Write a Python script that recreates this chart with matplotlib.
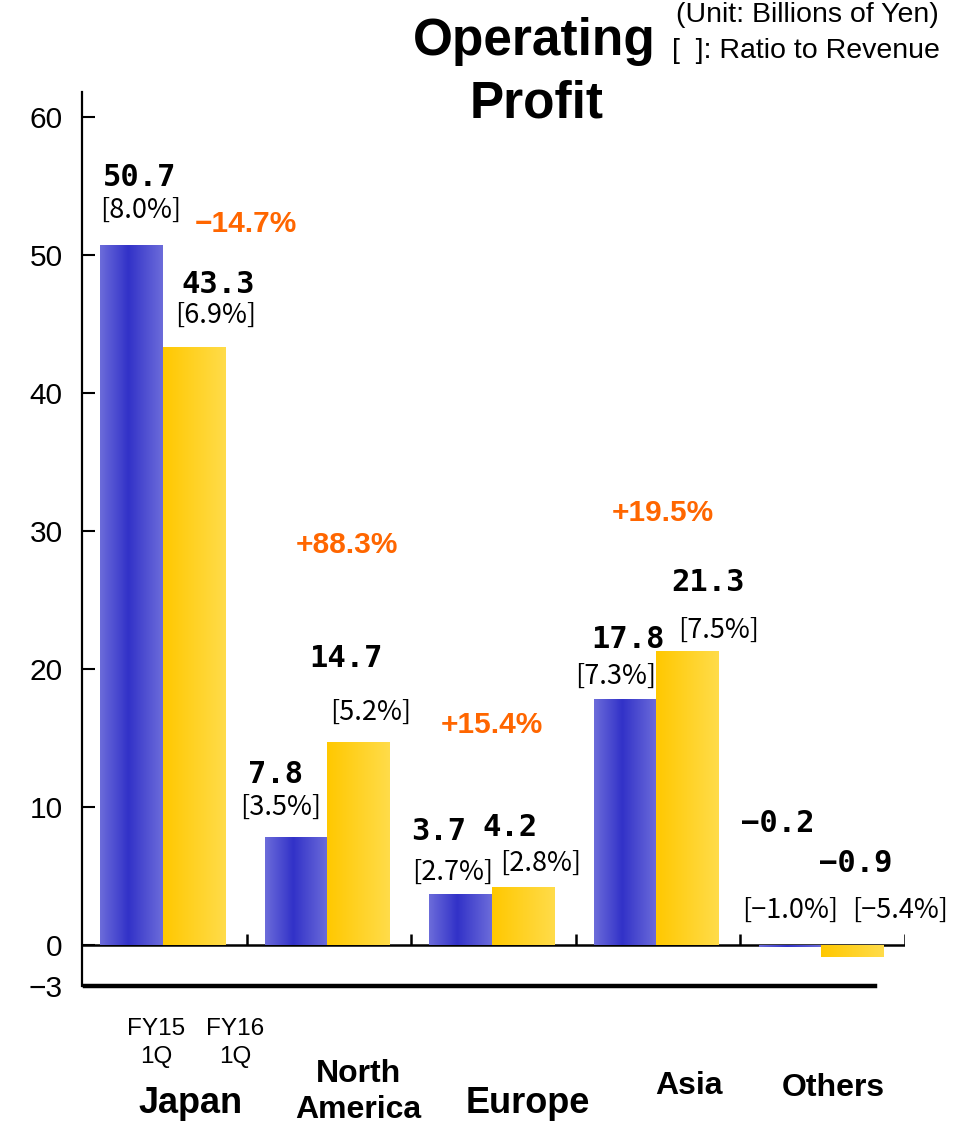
import matplotlib
matplotlib.use("Agg")
import matplotlib.pyplot as plt
import numpy as np
from matplotlib.colors import LinearSegmentedColormap

plt.rcParams['font.family'] = ['Liberation Sans', 'DejaVu Sans']

# ---- data (billions of yen) ----
regions = ["Japan", "North\nAmerica", "Europe", "Asia", "Others"]
periods = ["FY15\n1Q", "FY16\n1Q"]
profit_fy15 = [50.7, 7.8, 3.7, 17.8, -0.2]
profit_fy16 = [43.3, 14.7, 4.2, 21.3, -0.9]
margin_fy15 = [8.0, 3.5, 2.7, 7.3, -1.0]
margin_fy16 = [6.9, 5.2, 2.8, 7.5, -5.4]
yoy_change = [-14.7, 88.3, 15.4, 19.5, None]
y_ticks = [-3, 0, 10, 20, 30, 40, 50, 60]

# ---- layout ----
W, H = 956, 1123
fig = plt.figure(figsize=(W / 100, H / 100), dpi=100)
px_left, px_right, px_top, px_bottom = 82, 905, 92, 986
ax = fig.add_axes([px_left / W, 1 - px_bottom / H,
                   (px_right - px_left) / W, (px_bottom - px_top) / H])
ymin, ymax = -3, 61.8

x = np.arange(len(regions)) + 0.49
bw = 0.38

blue_cmap = LinearSegmentedColormap.from_list(
    "blue_bar", [(0.0, "#6c6cda"), (0.45, "#3232c8"), (1.0, "#6c6cda")])
yellow_cmap = LinearSegmentedColormap.from_list(
    "yellow_bar", [(0.0, "#ffc800"), (1.0, "#ffdc4a")])

bars15 = ax.bar(x - bw / 2, profit_fy15, bw, color="none", edgecolor="none", zorder=4)
bars16 = ax.bar(x + bw / 2, profit_fy16, bw, color="none", edgecolor="none", zorder=4)

grad = np.linspace(0, 1, 256).reshape(1, -1)


def fill_gradient(bar, cmap):
    x0, y0 = bar.get_xy()
    w, h = bar.get_width(), bar.get_height()
    im = ax.imshow(grad, cmap=cmap, aspect="auto", origin="lower",
                   extent=[x0, x0 + w, y0, y0 + h], zorder=4,
                   interpolation="bilinear")
    im.set_clip_path(bar)


for b in bars15:
    fill_gradient(b, blue_cmap)
for b in bars16:
    fill_gradient(b, yellow_cmap)

ax.set_xlim(0, len(regions))
ax.set_ylim(ymin, ymax)

# ---- axes styling ----
for side in ("top", "right"):
    ax.spines[side].set_visible(False)
ax.spines["left"].set_linewidth(1.6)
ax.spines["left"].set_bounds(ymin, ymax)
ax.spines["bottom"].set_linewidth(3.2)
ax.spines["bottom"].set_bounds(0.02, 4.82)
ax.set_xticks([])
ax.set_yticks(y_ticks)
ax.tick_params(axis="y", direction="in", length=9, width=1.5,
               labelsize=21.5, pad=14)

# zero line with upward separators between regions
ax.axhline(0, color="black", lw=1.8, zorder=3)
ax.vlines(np.arange(1, len(regions) + 1), 0, 0.75, color="black", lw=1.8, zorder=3)


def fmt(v):
    return f"{v:.1f}".replace("-", "\u2212")


# offsets in pixels (dx, dy) from the top of each bar
value_off15 = [(8, 59), (-20, 54), (-22, 54), (3, 51), (-12, 113)]
value_off16 = [(24, 54), (-13, 75), (-13, 51), (20, 60), (3, 73)]
ratio_off15 = [(9, 27), (-15, 22), (-8, 14), (-9, 15), (0, 27)]
ratio_off16 = [(22, 24), (12, 22), (18, 16), (31, 13), (48, 27)]
change_off = [(83, 13), (20, 189), (0, 154), (6, 130), (0, 0)]

value_font = dict(family=["DejaVu Sans Mono"], fontsize=22, fontweight="bold")
ratio_font = dict(family=["Noto Sans CJK JP", "DejaVu Sans"], fontsize=19.5)

for i in range(len(regions)):
    for xc, v, r, voff, roff in ((x[i] - bw / 2, profit_fy15[i], margin_fy15[i],
                                  value_off15[i], ratio_off15[i]),
                                 (x[i] + bw / 2, profit_fy16[i], margin_fy16[i],
                                  value_off16[i], ratio_off16[i])):
        top = max(v, 0)
        ax.annotate(fmt(v), xy=(xc, top), xytext=voff, textcoords="offset pixels",
                    ha="center", va="baseline", **value_font)
        ax.annotate(f"[{fmt(r)}%]", xy=(xc, top), xytext=roff,
                    textcoords="offset pixels", ha="center", va="baseline",
                    **ratio_font)
    if yoy_change[i] is not None:
        c = yoy_change[i]
        label = ("+" if c > 0 else "\u2212") + f"{abs(c):.1f}%"
        ax.annotate(label, xy=(x[i], max(profit_fy15[i], profit_fy16[i], 0)),
                    xytext=change_off[i], textcoords="offset pixels",
                    ha="center", va="baseline", color="#ff6600",
                    fontsize=21.5, fontweight="bold")

# period labels under the first region
period_dx = [25, 41]
for j, (xc, p) in enumerate(zip((x[0] - bw / 2, x[0] + bw / 2), periods)):
    for k, line in enumerate(p.split("\n")):
        ax.annotate(line, xy=(xc, ymin), xytext=(period_dx[j], -49 - 28 * k),
                    textcoords="offset pixels", ha="center", va="baseline",
                    fontsize=17.5)

# region names
region_style = [(28, -127, 26), (31, -96, 23), (36, -127, 26), (32, -108, 23), (12, -110, 23)]
for i, name in enumerate(regions):
    dx, dy, fs = region_style[i]
    for k, line in enumerate(name.split("\n")):
        ax.annotate(line, xy=(x[i], ymin), xytext=(dx, dy - 36 * k),
                    textcoords="offset pixels", ha="center", va="baseline",
                    fontsize=fs, fontweight="bold")

# title and notes
fig.text(534 / W, 1 - 55 / H, "Operating", ha="center", va="baseline",
         fontsize=37, fontweight="bold")
fig.text(537 / W, 1 - 117 / H, "Profit", ha="center", va="baseline",
         fontsize=37, fontweight="bold")
fig.text(676 / W, 1 - 22 / H, "(Unit: Billions of Yen)", ha="left",
         va="baseline", fontsize=20.5)
fig.text(672 / W, 1 - 58 / H, "[  ]: Ratio to Revenue", ha="left",
         va="baseline", fontsize=20.5)

fig.savefig("out.png", dpi=100)
